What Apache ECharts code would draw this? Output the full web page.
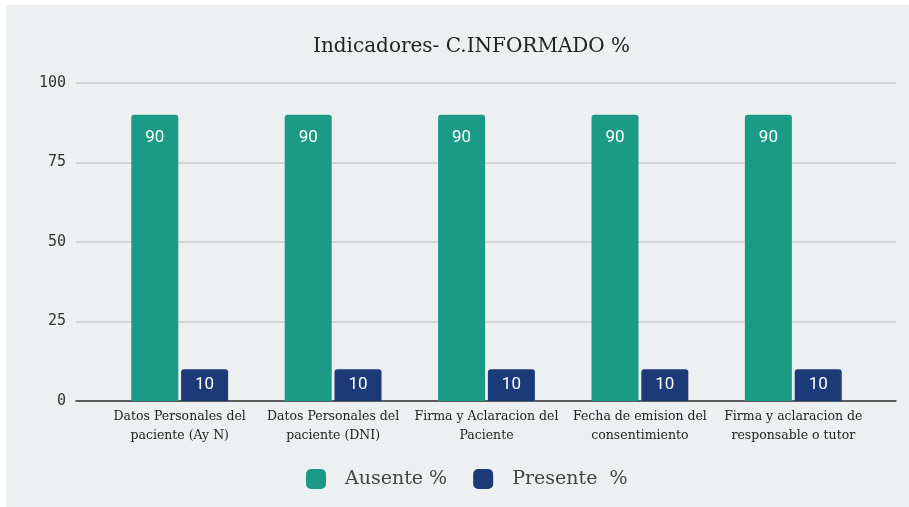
<!DOCTYPE html>
<html>
<head>
<meta charset="utf-8">
<script src="https://cdn.jsdelivr.net/npm/echarts@6/dist/echarts.min.js"></script>
<style>
    html, body { margin: 0; padding: 0; background: #ffffff; }
    .bg { position: absolute; left: 6px; top: 5px; width: 903px; height: 502px; background: #ecf0f1; }
    #chart { position: absolute; left: 0; top: 0; width: 909px; height: 507px; }
</style>
</head>
<body>
<div class="bg"></div>
<div id="chart"></div>
<script>
    // datos
    var categorias = [
        'Datos Personales del\npaciente (Ay N)',
        'Datos Personales del\npaciente (DNI)',
        'Firma y Aclaracion del\nPaciente',
        'Fecha de emision del\nconsentimiento',
        'Firma y aclaracion de\nresponsable o tutor'
    ]
    var ausente = [90, 90, 90, 90, 90] // Ausente %
    var presente = [10, 10, 10, 10, 10] // Presente %
    var yTicks = [0, 25, 50, 75, 100]

    var serif = '"DejaVu Serif", "Liberation Serif", serif'
    var chart = echarts.init(document.getElementById('chart'))
    var option = {
        backgroundColor: 'transparent',
        title: {
            text: 'Indicadores- C.INFORMADO %',
            left: 308,
            top: 32,
            textStyle: { fontFamily: serif, fontWeight: 'normal', fontSize: 20, color: '#222' }
        },
        legend: {
            data: ['Ausente %', 'Presente  %'],
            left: 301,
            top: 464,
            itemWidth: 20,
            itemHeight: 20,
            itemGap: 26,
            icon: 'roundRect',
            textStyle: { fontFamily: serif, fontSize: 19, color: '#444', padding: [0, 0, 0, 14] }
        },
        grid: [
            // rejilla de fondo (lineas)
            { left: 76, right: 13, top: 83, bottom: 106 },
            // rejilla de barras
            { left: 103, right: 39, top: 83, bottom: 106 }
        ],
        xAxis: [
            {
                gridIndex: 0,
                type: 'value',
                min: 0,
                max: 1,
                axisLine: { show: true, lineStyle: { color: '#333', width: 1.5 } },
                axisTick: { show: false },
                axisLabel: { show: false },
                splitLine: { show: false }
            },
            {
                gridIndex: 1,
                type: 'category',
                data: categorias,
                axisLine: { show: false },
                axisTick: { show: false },
                axisLabel: {
                    interval: 0,
                    margin: 6,
                    fontFamily: serif,
                    fontSize: 12.5,
                    lineHeight: 19,
                    color: '#222'
                }
            }
        ],
        yAxis: [
            {
                gridIndex: 0,
                type: 'value',
                min: yTicks[0],
                max: yTicks[yTicks.length - 1],
                interval: 25,
                axisLine: { show: false },
                axisTick: { show: false },
                axisLabel: {
                    margin: 10,
                    fontFamily: '"DejaVu Sans Mono", monospace',
                    fontSize: 15,
                    color: '#333'
                },
                splitLine: { lineStyle: { color: '#cccccc', width: 1.5 } }
            },
            {
                gridIndex: 1,
                type: 'value',
                min: 0,
                max: 100,
                show: false
            }
        ],
        series: [
            {
                name: 'Ausente %',
                type: 'bar',
                xAxisIndex: 1,
                yAxisIndex: 1,
                barWidth: 47,
                barGap: '6%',
                itemStyle: { color: '#1b9a86', borderRadius: [3, 3, 0, 0] },
                label: {
                    show: true,
                    position: 'insideTop',
                    distance: 14,
                    color: '#ffffff',
                    fontFamily: 'Roboto, sans-serif',
                    fontSize: 17
                },
                data: ausente
            },
            {
                name: 'Presente  %',
                type: 'bar',
                xAxisIndex: 1,
                yAxisIndex: 1,
                barWidth: 47,
                itemStyle: { color: '#1d3a78', borderRadius: [3, 3, 0, 0] },
                label: {
                    show: true,
                    position: 'insideTop',
                    distance: 7,
                    color: '#ffffff',
                    fontFamily: 'Roboto, sans-serif',
                    fontSize: 17
                },
                data: presente
            }
        ]
    }
    chart.setOption(option)
</script>
</body>
</html>
